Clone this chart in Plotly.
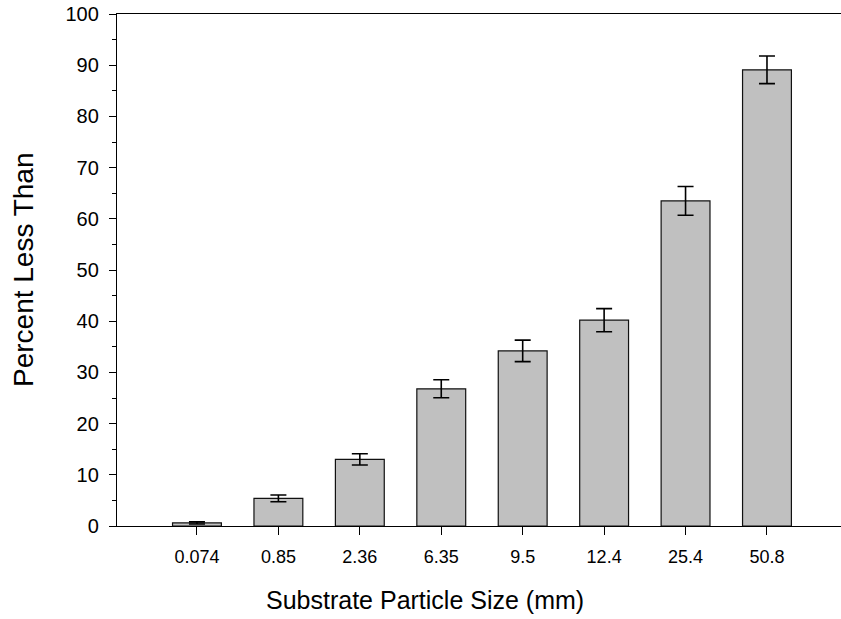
import plotly.graph_objects as go

sizes = ["0.074", "0.85", "2.36", "6.35", "9.5", "12.4", "25.4", "50.8"]
percent_less = [0.6, 5.4, 13.0, 26.8, 34.2, 40.2, 63.5, 89.1]
err = [0.2, 0.65, 1.1, 1.75, 2.1, 2.25, 2.8, 2.7]

fig = go.Figure()
fig.add_trace(go.Bar(
    x=sizes, y=percent_less,
    width=0.6,
    marker=dict(color="#c0c0c0", line=dict(color="#111111", width=1.2)),
    error_y=dict(type="data", array=err, visible=True, color="black", thickness=1.6, width=8),
))

font = "Liberation Sans, Arial, sans-serif"
fig.update_layout(
    width=841, height=619,
    margin=dict(l=117, r=0, t=14, b=93),
    plot_bgcolor="white", paper_bgcolor="white",
    showlegend=False,
    font=dict(family=font, color="black"),
    bargap=0.4,
    annotations=[
        dict(text="Substrate Particle Size (mm)", xref="paper", yref="paper",
             x=(425 - 117) / 724, y=(526 - 600) / 512, xanchor="center", yanchor="middle",
             showarrow=False, font=dict(size=25, family=font, color="black")),
        dict(text="Percent Less Than", xref="paper", yref="paper",
             x=(23 - 117) / 724, y=0.5, xanchor="center", yanchor="middle", textangle=-90,
             showarrow=False, font=dict(size=28, family=font, color="black")),
    ],
)
fig.update_xaxes(
    type="category",
    range=[-0.982, 7.909],
    showline=True, linecolor="black", linewidth=1.3, mirror=True,
    ticks="outside", ticklen=8, tickwidth=1.3, tickcolor="black",
    tickfont=dict(size=18, family=font),
    ticklabelstandoff=6,
    showgrid=False, zeroline=False,
)
fig.update_yaxes(
    range=[0, 100], dtick=10, tick0=0,
    showline=True, linecolor="black", linewidth=1.3,
    ticks="outside", ticklen=7, tickwidth=1.3, tickcolor="black",
    minor=dict(dtick=5, ticks="outside", ticklen=4, tickwidth=1.3, tickcolor="black", showgrid=False),
    tickfont=dict(size=20, family=font),
    ticklabelstandoff=6,
    showgrid=False, zeroline=False,
)
fig.write_html("out.html")
